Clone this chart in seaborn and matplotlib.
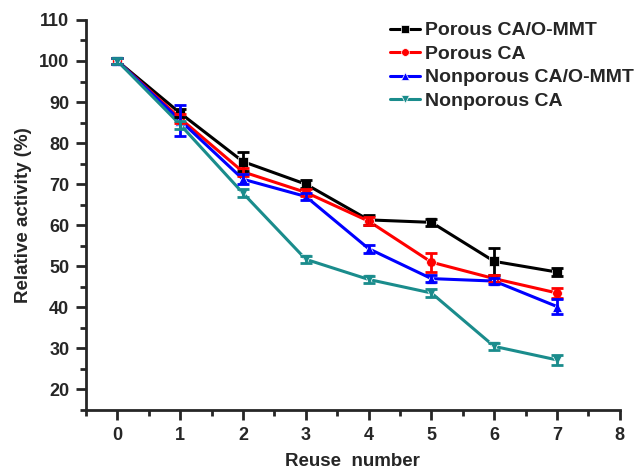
import numpy as np
import pandas as pd
import matplotlib
matplotlib.use("Agg")
import matplotlib.pyplot as plt
from matplotlib.ticker import MultipleLocator
import seaborn as sns

sns.set_style("ticks")
plt.rcParams['font.family'] = ['Liberation Sans', 'DejaVu Sans']
plt.rcParams['font.weight'] = 'bold'

reuse = [0, 1, 2, 3, 4, 5, 6, 7]
series_names = ["Porous CA/O-MMT", "Porous CA", "Nonporous CA/O-MMT", "Nonporous CA"]
porous_mmt = [100, 87.3, 75.5, 70.0, 61.3, 60.7, 51.2, 48.6]
porous_mmt_err = [0.8, 1.0, 2.3, 1.0, 1.3, 0.8, 3.3, 1.0]
porous_ca = [100, 86.0, 73.0, 68.0, 61.0, 51.0, 47.0, 43.5]
porous_ca_err = [0.8, 1.0, 1.0, 0.8, 1.0, 2.3, 0.8, 1.3]
nonporous_mmt = [100, 85.5, 71.2, 67.0, 54.3, 47.0, 46.4, 40.2]
nonporous_mmt_err = [0.8, 3.8, 1.2, 0.8, 1.0, 0.8, 0.8, 1.8]
nonporous_ca = [100, 84.5, 67.8, 51.7, 46.8, 43.5, 30.5, 27.2]
nonporous_ca_err = [0.8, 1.0, 1.0, 0.8, 0.8, 1.0, 0.8, 1.2]

values = [porous_mmt, porous_ca, nonporous_mmt, nonporous_ca]
errors = [porous_mmt_err, porous_ca_err, nonporous_mmt_err, nonporous_ca_err]
colors = ["#000000", "#ff0000", "#0000ff", "#1a8c8c"]
markers = ["s", "o", "^", "v"]

rows = []
for name, vals, errs in zip(series_names, values, errors):
    for x, v, e in zip(reuse, vals, errs):
        rows.append({"Reuse": x, "Activity": v, "Err": e, "Series": name})
df = pd.DataFrame(rows)

fig = plt.figure(figsize=(6.37, 4.74), dpi=100)
ax = fig.add_axes([0.135, 0.135, 0.838, 0.823])

palette = dict(zip(series_names, colors))
mk = dict(zip(series_names, markers))
sns.lineplot(data=df, x="Reuse", y="Activity", hue="Series", style="Series",
             palette=palette, markers=mk, dashes=False, linewidth=2.2,
             markersize=7, markeredgewidth=0.5, ax=ax, errorbar=None,
             hue_order=series_names, style_order=series_names)

for name, c in zip(series_names, colors):
    sub = df[df["Series"] == name]
    ax.errorbar(sub["Reuse"], sub["Activity"], yerr=sub["Err"], fmt="none",
                ecolor=c, elinewidth=2, capsize=4, capthick=2, zorder=3)

ax.set_xlim(-0.5, 8)
ax.set_ylim(15, 110)
ax.xaxis.set_major_locator(MultipleLocator(1))
ax.xaxis.set_minor_locator(MultipleLocator(0.5))
ax.yaxis.set_major_locator(MultipleLocator(10))
ax.yaxis.set_minor_locator(MultipleLocator(5))
ax.set_yticks(np.arange(20, 111, 10))
ax.tick_params(which="major", length=7, width=2, labelsize=13, direction="out", pad=5)
ax.tick_params(which="minor", length=4, width=2, direction="out")
for lab in ax.get_xticklabels() + ax.get_yticklabels():
    lab.set_fontweight("bold")

for s in ["left", "bottom"]:
    ax.spines[s].set_linewidth(2)
sns.despine(ax=ax)

ax.set_xlabel("Reuse  number", fontsize=13.5, fontweight="bold", labelpad=7)
ax.set_ylabel("Relative activity (%)", fontsize=13.5, fontweight="bold", labelpad=5)

leg = ax.legend(loc="upper right", bbox_to_anchor=(1.04, 1.015), frameon=False,
                prop={"weight": "bold", "size": 14}, handlelength=1.55,
                handletextpad=0.25, labelspacing=0.3, borderaxespad=0,
                markerscale=0.8)

fig.savefig("out.png", dpi=100)
